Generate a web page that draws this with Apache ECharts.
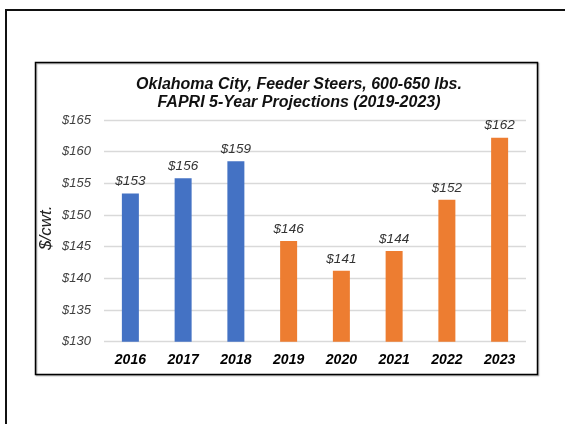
<!DOCTYPE html>
<html>
<head>
<meta charset="utf-8">
<script src="https://cdn.jsdelivr.net/npm/echarts@6/dist/echarts.min.js"></script>
<style>
html,body{margin:0;padding:0;background:#fff;}
#chart{width:565px;height:424px;}
</style>
</head>
<body>
<div id="chart"></div>
<script>
var years = ['2016','2017','2018','2019','2020','2021','2022','2023'];
var prices = [153.4, 155.8, 158.5, 145.9, 141.2, 144.3, 152.4, 162.2];
var kinds = ['Actual','Actual','Actual','Projected','Projected','Projected','Projected','Projected'];
var yTicks = [130, 135, 140, 145, 150, 155, 160, 165];
var titleLines = ['Oklahoma City, Feeder Steers, 600-650 lbs.', 'FAPRI 5-Year Projections (2019-2023)'];
var yName = '$/cwt.';

var kindColors = { Actual: '#4472C4', Projected: '#ED7D31' };
var FONT = 'Arial, "Liberation Sans", sans-serif';

var chart = echarts.init(document.getElementById('chart'), null, { renderer: 'canvas' });
chart.setOption({
  backgroundColor: '#fff',
  animation: false,
  graphic: [
    { type: 'rect', shape: { x: 6, y: 10, width: 700, height: 600 },
      style: { fill: 'none', stroke: '#111', lineWidth: 2 }, z: 0 },
    { type: 'rect', shape: { x: 35.5, y: 62.5, width: 502, height: 312 },
      style: { fill: 'none', stroke: '#000', lineWidth: 1.5,
               shadowColor: 'rgba(0,0,0,0.35)', shadowOffsetX: 1, shadowOffsetY: 1, shadowBlur: 1 }, z: 0 }
  ],
  title: {
    text: titleLines.join('\n'),
    left: 294, top: 71, textAlign: 'center',
    textStyle: { fontFamily: FONT, fontSize: 16, fontWeight: 'bold', fontStyle: 'italic',
                 color: '#111', lineHeight: 17.5 }
  },
  grid: { left: 104, right: 39, top: 120, bottom: 82.3 },
  xAxis: {
    type: 'category',
    data: years,
    axisLine: { show: false },
    axisTick: { show: false },
    axisLabel: { fontFamily: FONT, fontSize: 14, fontWeight: 'bold', fontStyle: 'italic',
                 color: '#000', margin: 11 }
  },
  yAxis: {
    type: 'value',
    min: yTicks[0], max: yTicks[yTicks.length - 1], interval: 5,
    name: yName,
    nameLocation: 'middle',
    nameGap: 49,
    nameMoveOverlap: false,
    nameRotate: 90,
    nameTextStyle: { fontFamily: FONT, fontSize: 17, fontStyle: 'italic', color: '#222',
                     padding: [0, 0, 0, 6] },
    axisLine: { show: false },
    axisTick: { show: false },
    splitLine: { lineStyle: { color: '#d9d9d9', width: 1.3 } },
    axisLabel: { fontFamily: FONT, fontSize: 13, fontStyle: 'italic', color: '#404040', margin: 13,
                 formatter: function (v) { return '$' + v; } }
  },
  series: [{
    type: 'bar',
    barWidth: 17,
    data: prices.map(function (v, i) {
      return { value: v, itemStyle: { color: kindColors[kinds[i]] } };
    }),
    label: {
      show: true, position: 'top', distance: 5,
      fontFamily: FONT, fontSize: 13.5, fontStyle: 'italic', color: '#333',
      formatter: function (p) { return '$' + Math.round(p.value); }
    }
  }]
});
</script>
</body>
</html>
